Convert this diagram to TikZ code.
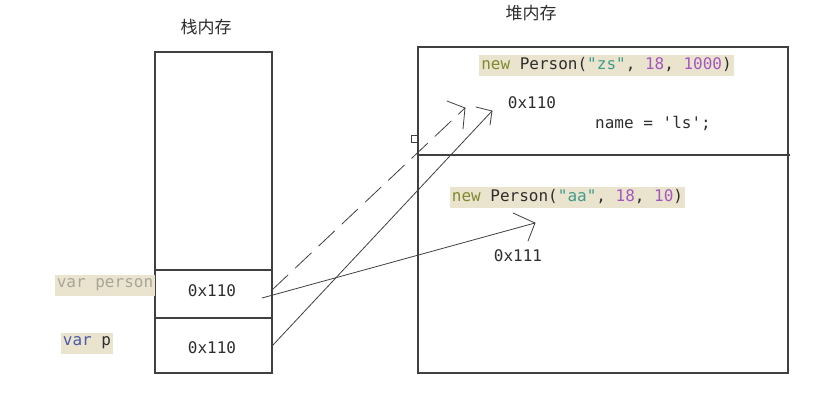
\documentclass[tikz,border=0pt]{standalone}
\usepackage{fontspec}
\setmonofont{DejaVu Sans Mono}
\newfontfamily\cjk{Noto Sans CJK SC}
\definecolor{hl}{HTML}{EAE3CE}
\definecolor{kw}{HTML}{7E8B2E}
\definecolor{str}{HTML}{3E9C8C}
\definecolor{num}{HTML}{A457C0}
\definecolor{txt}{HTML}{2E2E2E}
\definecolor{lite}{HTML}{A8A69A}
\definecolor{blu}{HTML}{4A5AA8}
\definecolor{ln}{HTML}{404040}
\begin{document}
\begin{tikzpicture}[x=1pt,y=-1pt,
  code/.style={font=\ttfamily\fontsize{16}{18}\selectfont, text=txt, inner sep=0pt},
  hlbox/.style={code, fill=hl, inner xsep=2pt, minimum height=21pt},
  title/.style={font=\cjk\fontsize{17}{19}\selectfont, text=txt, inner sep=0pt},
  frame/.style={draw=ln, line width=1.1pt},
  conn/.style={draw=ln, line width=0.8pt, line cap=round},
  dsh/.style={conn, dash pattern=on 22pt off 10pt}]
\useasboundingbox (0,0) rectangle (830,402);
\fill[white] (0,0) rectangle (830,402);
% titles
\node[title] (ttl1) at (206,27) {栈内存};
\node[title] (ttl2) at (531,13) {堆内存};
% stack
\draw[frame] (155,52) rectangle (272,373);
\draw[frame] (155,270) -- (272,270);
\draw[frame] (155,318) -- (272,318);
\node[code] (s1) at (212,291) {0x110};
\node[code] (s2) at (212,348) {0x110};
\node[hlbox] (vperson) at (105,285) {\textcolor{lite}{var person}};
\node[hlbox] (vp) at (87,343) {\textcolor{blu}{var} p};
% heap
\draw[frame] (418,47) rectangle (788,373);
\draw[frame] (418,155) -- (790,155);
\draw[draw=ln, line width=0.8pt] (411,135) rectangle (417,142);
\node[hlbox] (obj1) at (606.5,65) {\textcolor{kw}{new} Person(\textcolor{str}{"zs"}, \textcolor{num}{18}, \textcolor{num}{1000})};
\node[code] (a1) at (532,103) {0x110};
\node[code] (nm) at (653,123) {name = 'ls';};
\node[hlbox] (obj2) at (567.5,197) {\textcolor{kw}{new} Person(\textcolor{str}{"aa"}, \textcolor{num}{18}, \textcolor{num}{10})};
\node[code] (a2) at (518,256) {0x111};
% connector coordinates
\coordinate (st1) at (272,290);
\coordinate (tp1) at (465,108);
\coordinate (h1a) at (447,101);
\coordinate (h1b) at (463,129);
\coordinate (st2) at (273,345);
\coordinate (tp2) at (492,111);
\coordinate (h2a) at (476,107);
\coordinate (h2b) at (490,125);
\coordinate (st3) at (262,298);
\coordinate (tp3) at (535,223);
\coordinate (h3a) at (513,213);
\coordinate (h3b) at (528,241);
% connectors
\draw[dsh] (st1) -- (tp1);
\draw[conn] (h1a) -- (tp1) -- (h1b);
\draw[conn] (st2) -- (tp2);
\draw[conn] (h2a) -- (tp2) -- (h2b);
\draw[conn] (st3) -- (tp3);
\draw[conn] (h3a) -- (tp3) -- (h3b);
\end{tikzpicture}
\end{document}
